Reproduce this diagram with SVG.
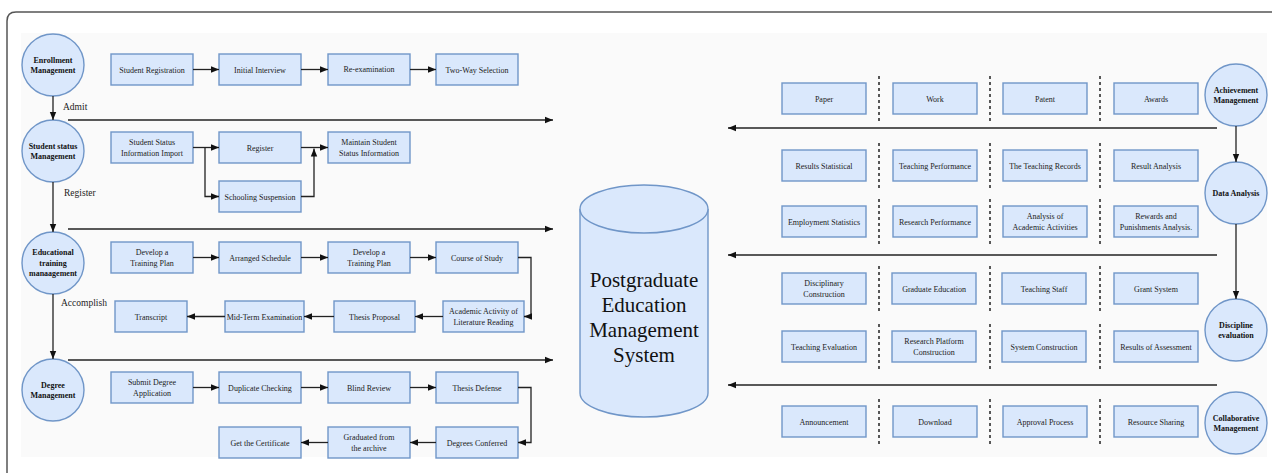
<svg xmlns="http://www.w3.org/2000/svg" width="1272" height="473" viewBox="0 0 1272 473">
  <defs>
    <marker id="ah" viewBox="0 0 10 10" refX="10" refY="5" markerWidth="8" markerHeight="8" markerUnits="userSpaceOnUse" orient="auto">
      <path d="M0,1 L10,5 L0,9 z" fill="#111"/>
    </marker>
    <style>
      .frame { fill: none; stroke: #555; stroke-width: 1.5; }
      .panel { fill: #fafafa; stroke: none; }
      .box { fill: #dae8fc; stroke: #7096c8; stroke-width: 1.4; }
      .node { fill: #dae8fc; stroke: #7096c8; stroke-width: 1.4; }
      .db { fill: #dae8fc; stroke: #7096c8; stroke-width: 1.4; }
      text { font-family: "Times New Roman", "Liberation Serif", Times, "DejaVu Serif", serif; }
      .t { font-size: 8px; fill: #222; text-anchor: middle; }
      .tb { font-size: 8px; font-weight: bold; fill: #111; text-anchor: middle; }
      .lbl { font-size: 9.5px; fill: #222; }
      .big { font-size: 21px; fill: #111; text-anchor: middle; }
      .ln { fill: none; stroke: #222; stroke-width: 1.3; }
      .main { fill: none; stroke: #222; stroke-width: 1.5; }
      .sep { fill: none; stroke: #222; stroke-width: 1.5; stroke-dasharray: 3 3; }
    </style>
  </defs>

  <!-- page frame and light panel -->
  <rect class="panel" x="21" y="33" width="1246" height="424"/>
  <path class="frame" d="M7,473 V21 Q7,12 16,12 H1272"/>

  <!-- left column: management circles -->
  <g id="enrollment-management">
    <circle class="node" cx="53" cy="65" r="31"/>
    <text class="tb" x="53" y="63">Enrollment</text>
    <text class="tb" x="53" y="73">Management</text>
  </g>
  <g id="student-status-management">
    <circle class="node" cx="53" cy="151" r="31"/>
    <text class="tb" x="53" y="149">Student status</text>
    <text class="tb" x="53" y="159">Management</text>
  </g>
  <g id="educational-training-management">
    <circle class="node" cx="53" cy="263" r="31"/>
    <text class="tb" x="53" y="255">Educational</text>
    <text class="tb" x="53" y="265.5">training</text>
    <text class="tb" x="53" y="276">manaagement</text>
  </g>
  <g id="degree-management">
    <circle class="node" cx="53" cy="390" r="31"/>
    <text class="tb" x="53" y="388">Degree</text>
    <text class="tb" x="53" y="398">Management</text>
  </g>

  <!-- enrollment steps -->
  <g id="student-registration"><rect class="box" x="111" y="54" width="82" height="31"/><text class="t" x="152" y="72.5">Student Registration</text></g>
  <g id="initial-interview"><rect class="box" x="219" y="54" width="82" height="31"/><text class="t" x="260" y="72.5">Initial Interview</text></g>
  <g id="re-examination"><rect class="box" x="328" y="54" width="82" height="31"/><text class="t" x="369" y="71.5">Re-examination</text></g>
  <g id="two-way-selection"><rect class="box" x="436" y="54" width="82" height="31"/><text class="t" x="477" y="72.5">Two-Way Selection</text></g>

  <!-- student status steps -->
  <g id="status-import"><rect class="box" x="111" y="132" width="82" height="31"/><text class="t" x="152" y="145">Student Status</text><text class="t" x="152" y="155.5">Information Import</text></g>
  <g id="register"><rect class="box" x="219" y="132" width="82" height="31"/><text class="t" x="260" y="150.5">Register</text></g>
  <g id="maintain-status"><rect class="box" x="328" y="132" width="82" height="31"/><text class="t" x="369" y="145">Maintain Student</text><text class="t" x="369" y="155.5">Status Information</text></g>
  <g id="schooling-suspension"><rect class="box" x="219" y="181" width="82" height="31"/><text class="t" x="260" y="199.5">Schooling Suspension</text></g>

  <!-- training steps -->
  <g id="training-plan-1"><rect class="box" x="111" y="242" width="82" height="31"/><text class="t" x="152" y="255">Develop a</text><text class="t" x="152" y="265.5">Training Plan</text></g>
  <g id="arranged-schedule"><rect class="box" x="219" y="242" width="82" height="31"/><text class="t" x="260" y="260.5">Arranged Schedule</text></g>
  <g id="training-plan-2"><rect class="box" x="328" y="242" width="82" height="31"/><text class="t" x="369" y="255">Develop a</text><text class="t" x="369" y="265.5">Training Plan</text></g>
  <g id="course-of-study"><rect class="box" x="436" y="242" width="82" height="31"/><text class="t" x="477" y="260.5">Course of Study</text></g>
  <g id="transcript"><rect class="box" x="115" y="301" width="72" height="31"/><text class="t" x="151" y="319.5">Transcript</text></g>
  <g id="mid-term-examination"><rect class="box" x="225" y="301" width="79" height="31"/><text class="t" x="264.5" y="319.5">Mid-Term Examination</text></g>
  <g id="thesis-proposal"><rect class="box" x="334" y="301" width="81" height="31"/><text class="t" x="374.5" y="319.5">Thesis Proposal</text></g>
  <g id="literature-reading"><rect class="box" x="443" y="301" width="81" height="31"/><text class="t" x="483.5" y="314">Academic Activity of</text><text class="t" x="483.5" y="324.5">Literature Reading</text></g>

  <!-- degree steps -->
  <g id="submit-application"><rect class="box" x="111" y="372" width="82" height="31"/><text class="t" x="152" y="385">Submit Degree</text><text class="t" x="152" y="395.5">Application</text></g>
  <g id="duplicate-checking"><rect class="box" x="219" y="372" width="82" height="31"/><text class="t" x="260" y="390.5">Duplicate Checking</text></g>
  <g id="blind-review"><rect class="box" x="328" y="372" width="82" height="31"/><text class="t" x="369" y="390.5">Blind Review</text></g>
  <g id="thesis-defense"><rect class="box" x="436" y="372" width="82" height="31"/><text class="t" x="477" y="390.5">Thesis Defense</text></g>
  <g id="get-certificate"><rect class="box" x="219" y="427" width="82" height="31"/><text class="t" x="260" y="445.5">Get the Certificate</text></g>
  <g id="graduated-archive"><rect class="box" x="328" y="427" width="82" height="31"/><text class="t" x="369" y="440">Graduated from</text><text class="t" x="369" y="450.5">the archive</text></g>
  <g id="degrees-conferred"><rect class="box" x="436" y="427" width="82" height="31"/><text class="t" x="477" y="445.5">Degrees Conferred</text></g>

  <!-- central database -->
  <g id="management-system">
    <path class="db" d="M580,209 V393 A64,24 0 0 0 708,393 V209"/>
    <ellipse class="db" cx="644" cy="209" rx="64" ry="24"/>
    <text class="big" x="644" y="287">Postgraduate</text>
    <text class="big" x="644" y="312">Education</text>
    <text class="big" x="644" y="337">Management</text>
    <text class="big" x="644" y="362">System</text>
  </g>

  <!-- right column: management circles -->
  <g id="achievement-management">
    <circle class="node" cx="1236" cy="95" r="31"/>
    <text class="tb" x="1236" y="93">Achievement</text>
    <text class="tb" x="1236" y="103">Management</text>
  </g>
  <g id="data-analysis">
    <circle class="node" cx="1236" cy="193" r="31"/>
    <text class="tb" x="1236" y="196">Data Analysis</text>
  </g>
  <g id="discipline-evaluation">
    <circle class="node" cx="1236" cy="330" r="31"/>
    <text class="tb" x="1236" y="328">Discipline</text>
    <text class="tb" x="1236" y="338">evaluation</text>
  </g>
  <g id="collaborative-management">
    <circle class="node" cx="1236" cy="423" r="31"/>
    <text class="tb" x="1236" y="421">Collaborative</text>
    <text class="tb" x="1236" y="431">Management</text>
  </g>

  <!-- achievement items -->
  <g id="paper"><rect class="box" x="782" y="83" width="84" height="31"/><text class="t" x="824" y="101.5">Paper</text></g>
  <g id="work"><rect class="box" x="893" y="83" width="84" height="31"/><text class="t" x="935" y="101.5">Work</text></g>
  <g id="patent"><rect class="box" x="1003" y="83" width="84" height="31"/><text class="t" x="1045" y="101.5">Patent</text></g>
  <g id="awards"><rect class="box" x="1114" y="83" width="84" height="31"/><text class="t" x="1156" y="101.5">Awards</text></g>

  <!-- data analysis items -->
  <g id="results-statistical"><rect class="box" x="782" y="150" width="84" height="31"/><text class="t" x="824" y="168.5">Results Statistical</text></g>
  <g id="teaching-performance"><rect class="box" x="893" y="150" width="84" height="31"/><text class="t" x="935" y="168.5">Teaching Performance</text></g>
  <g id="teaching-records"><rect class="box" x="1003" y="150" width="84" height="31"/><text class="t" x="1045" y="168.5">The Teaching Records</text></g>
  <g id="result-analysis"><rect class="box" x="1114" y="150" width="84" height="31"/><text class="t" x="1156" y="168.5">Result Analysis</text></g>
  <g id="employment-statistics"><rect class="box" x="782" y="206" width="84" height="31"/><text class="t" x="824" y="224.5">Employment Statistics</text></g>
  <g id="research-performance"><rect class="box" x="893" y="206" width="84" height="31"/><text class="t" x="935" y="224.5">Research Performance</text></g>
  <g id="academic-activities"><rect class="box" x="1003" y="206" width="84" height="31"/><text class="t" x="1045" y="219">Analysis of</text><text class="t" x="1045" y="229.5">Academic Activities</text></g>
  <g id="rewards-punishments"><rect class="box" x="1114" y="206" width="84" height="31"/><text class="t" x="1156" y="219">Rewards and</text><text class="t" x="1156" y="229.5">Punishments Analysis.</text></g>

  <!-- discipline evaluation items -->
  <g id="disciplinary-construction"><rect class="box" x="782" y="273" width="84" height="31"/><text class="t" x="824" y="286">Disciplinary</text><text class="t" x="824" y="296.5">Construction</text></g>
  <g id="graduate-education"><rect class="box" x="892" y="273" width="84" height="31"/><text class="t" x="934" y="291.5">Graduate Education</text></g>
  <g id="teaching-staff"><rect class="box" x="1002" y="273" width="84" height="31"/><text class="t" x="1044" y="291.5">Teaching Staff</text></g>
  <g id="grant-system"><rect class="box" x="1114" y="273" width="84" height="31"/><text class="t" x="1156" y="291.5">Grant System</text></g>
  <g id="teaching-evaluation"><rect class="box" x="782" y="331" width="84" height="31"/><text class="t" x="824" y="349.5">Teaching Evaluation</text></g>
  <g id="research-platform"><rect class="box" x="892" y="331" width="84" height="31"/><text class="t" x="934" y="344">Research Platform</text><text class="t" x="934" y="354.5">Construction</text></g>
  <g id="system-construction"><rect class="box" x="1002" y="331" width="84" height="31"/><text class="t" x="1044" y="349.5">System Construction</text></g>
  <g id="results-assessment"><rect class="box" x="1114" y="331" width="84" height="31"/><text class="t" x="1156" y="349.5">Results of Assessment</text></g>

  <!-- collaborative items -->
  <g id="announcement"><rect class="box" x="782" y="406" width="84" height="31"/><text class="t" x="824" y="424.5">Announcement</text></g>
  <g id="download"><rect class="box" x="893" y="406" width="84" height="31"/><text class="t" x="935" y="424.5">Download</text></g>
  <g id="approval-process"><rect class="box" x="1003" y="406" width="84" height="31"/><text class="t" x="1045" y="424.5">Approval Process</text></g>
  <g id="resource-sharing"><rect class="box" x="1114" y="406" width="84" height="31"/><text class="t" x="1156" y="424.5">Resource Sharing</text></g>

  <!-- dashed column separators -->
  <g id="separators">
    <path class="sep" d="M879,76 V121 M990,76 V121 M1100,76 V121"/>
    <path class="sep" d="M879,143 V188 M990,143 V188 M1100,143 V188"/>
    <path class="sep" d="M879,199 V244 M990,199 V244 M1100,199 V244"/>
    <path class="sep" d="M879,266 V311 M990,266 V311 M1100,266 V311"/>
    <path class="sep" d="M879,324 V369 M990,324 V369 M1100,324 V369"/>
    <path class="sep" d="M879,399 V444 M990,399 V444 M1100,399 V444"/>
  </g>

  <!-- connectors -->
  <g id="connectors">
    <!-- left column flow -->
    <path class="ln" d="M53,96 V120" marker-end="url(#ah)"/>
    <path class="ln" d="M53,182 V232" marker-end="url(#ah)"/>
    <path class="ln" d="M53,294 V359" marker-end="url(#ah)"/>
    <path class="main" d="M68,120 H553" marker-end="url(#ah)"/>
    <path class="main" d="M68,229 H553" marker-end="url(#ah)"/>
    <path class="main" d="M68,360 H553" marker-end="url(#ah)"/>

    <!-- enrollment -->
    <path class="ln" d="M193,69.5 H219" marker-end="url(#ah)"/>
    <path class="ln" d="M301,69.5 H328" marker-end="url(#ah)"/>
    <path class="ln" d="M410,69.5 H436" marker-end="url(#ah)"/>

    <!-- student status -->
    <path class="ln" d="M193,147.5 H219" marker-end="url(#ah)"/>
    <path class="ln" d="M205,147.5 V196.5 H219" marker-end="url(#ah)"/>
    <path class="ln" d="M301,147.5 H328" marker-end="url(#ah)"/>
    <path class="ln" d="M301,196.5 H314 V148.5" marker-end="url(#ah)"/>

    <!-- training -->
    <path class="ln" d="M193,257.5 H219" marker-end="url(#ah)"/>
    <path class="ln" d="M301,257.5 H328" marker-end="url(#ah)"/>
    <path class="ln" d="M410,257.5 H436" marker-end="url(#ah)"/>
    <path class="ln" d="M518,257.5 H531 V316.5 H524" marker-end="url(#ah)"/>
    <path class="ln" d="M443,316.5 H415" marker-end="url(#ah)"/>
    <path class="ln" d="M334,316.5 H304" marker-end="url(#ah)"/>
    <path class="ln" d="M225,316.5 H187" marker-end="url(#ah)"/>

    <!-- degree -->
    <path class="ln" d="M193,387.5 H219" marker-end="url(#ah)"/>
    <path class="ln" d="M301,387.5 H328" marker-end="url(#ah)"/>
    <path class="ln" d="M410,387.5 H436" marker-end="url(#ah)"/>
    <path class="ln" d="M518,387.5 H531 V442.5 H518" marker-end="url(#ah)"/>
    <path class="ln" d="M436,442.5 H410" marker-end="url(#ah)"/>
    <path class="ln" d="M328,442.5 H301" marker-end="url(#ah)"/>

    <!-- right column flow -->
    <path class="ln" d="M1236,126 V162" marker-end="url(#ah)"/>
    <path class="ln" d="M1236,224 V299" marker-end="url(#ah)"/>
    <path class="main" d="M1217,128 H728" marker-end="url(#ah)"/>
    <path class="main" d="M1217,255 H728" marker-end="url(#ah)"/>
    <path class="main" d="M1217,385 H728" marker-end="url(#ah)"/>

    <!-- edge labels -->
    <text class="lbl" x="63" y="110">Admit</text>
    <text class="lbl" x="64" y="196">Register</text>
    <text class="lbl" x="61" y="306">Accomplish</text>
  </g>
</svg>
